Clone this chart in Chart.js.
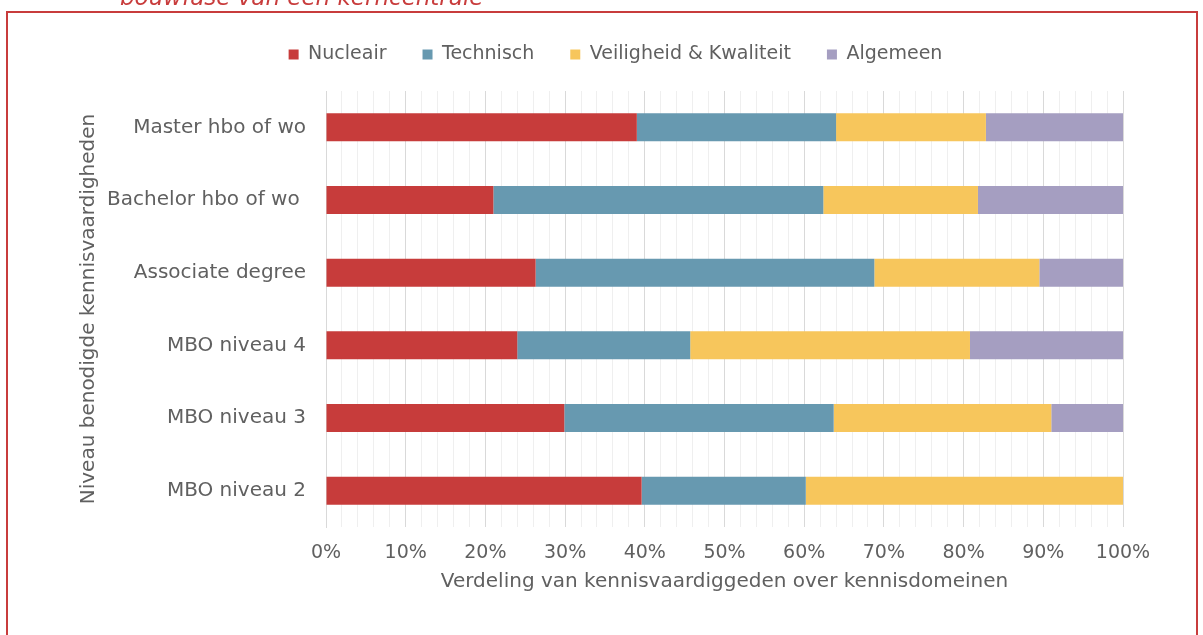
<!DOCTYPE html>
<html>
<head>
<meta charset="utf-8">
<script src="https://cdn.jsdelivr.net/npm/chart.js@4.4.1/dist/chart.umd.min.js"></script>
<style>
  html, body { margin: 0; padding: 0; background: #fff; }
  #wrap { width: 1203px; height: 635px; }
</style>
</head>
<body>
<div id="wrap"><canvas id="chart" width="1203" height="635"></canvas></div>
<script>
// niveaus (van boven naar beneden)
const levels = ["Master hbo of wo", "Bachelor hbo of wo ", "Associate degree", "MBO niveau 4", "MBO niveau 3", "MBO niveau 2"];

// aandeel per kennisdomein (%)
const nucleair   = [39.0, 21.0, 26.3, 24.0, 29.9, 39.6];
const technisch  = [25.0, 41.4, 42.5, 21.7, 33.8, 20.6];
const veiligheid = [18.8, 19.4, 20.7, 35.1, 27.3, 39.8];
const algemeen   = [17.2, 18.2, 10.5, 19.2,  9.0,  0.0];

const xTicks = [0, 10, 20, 30, 40, 50, 60, 70, 80, 90, 100];

const FONT = "'DejaVu Sans', sans-serif";
const GREY = "#606060";

// rode kader + afgesneden titel erboven
const framePlugin = {
    id: "frame",
    beforeLayout(chart) {
        // extra ruimte tussen legenda en grafiek, legenda iets naar rechts
        const lg = chart.legend;
        if (lg && !lg._extra) {
            const fit = lg.fit.bind(lg);
            lg.fit = function () { fit(); this.height += 17; };
            const draw = lg.draw.bind(lg);
            lg.draw = function () {
                this.ctx.save();
                this.ctx.translate(20, 0);
                draw();
                this.ctx.restore();
            };
            lg._extra = true;
        }
    },
    beforeDraw(chart) {
        const c = chart.ctx;
        c.save();
        c.fillStyle = "#fff";
        c.fillRect(0, 0, chart.width, chart.height);
        c.strokeStyle = "#c83c3c";
        c.lineWidth = 2;
        c.strokeRect(7, 12, 1190, 640);
        c.fillStyle = "#c83c3c";
        c.font = "italic 23px " + FONT;
        c.textBaseline = "alphabetic";
        c.fillText("bouwfase van een kerncentrale", 120, 5);
        c.restore();
    },
};

const ctx = document.getElementById("chart").getContext("2d");
new Chart(ctx, {
    type: "bar",
    data: {
        labels: levels,
        datasets: [
            { label: "Nucleair", data: nucleair, backgroundColor: "#c73c3b" },
            { label: "Technisch", data: technisch, backgroundColor: "#6799b0" },
            { label: "Veiligheid & Kwaliteit", data: veiligheid, backgroundColor: "#f7c65c" },
            { label: "Algemeen", data: algemeen, backgroundColor: "#a59ec1" },
        ],
    },
    options: {
        indexAxis: "y",
        responsive: false,
        animation: false,
        layout: { padding: { left: 68, right: 80, top: 9, bottom: 33 } },
        datasets: { bar: { barPercentage: 0.385, categoryPercentage: 1.0, borderWidth: 0 } },
        scales: {
            x: {
                stacked: true,
                min: 0,
                max: 100,
                afterBuildTicks(scale) {
                    const t = [];
                    for (let v = 0; v <= 100; v += 2) t.push({ value: v });
                    scale.ticks = t;
                },
                afterFit(scale) { scale.height = 75; },
                ticks: {
                    autoSkip: false,
                    maxRotation: 0,
                    padding: 15,
                    color: GREY,
                    font: { family: FONT, size: 19 },
                    callback: (v) => (xTicks.includes(v) ? v + "%" : ""),
                },
                grid: {
                    drawTicks: false,
                    color: (c) => (c.tick && c.tick.value % 10 === 0 ? "#d9d9d9" : "#efefef"),
                },
                border: { display: false },
                title: {
                    display: true,
                    text: "Verdeling van kennisvaardiggeden over kennisdomeinen",
                    color: GREY,
                    font: { family: FONT, size: 20 },
                    padding: { top: 0, bottom: 8 },
                },
            },
            y: {
                stacked: true,
                afterFit(scale) { scale.width = 326 - 68; },
                ticks: {
                    padding: 20,
                    color: GREY,
                    font: { family: FONT, size: 20 },
                },
                grid: { display: false, drawTicks: false },
                border: { display: true, color: "#d9d9d9" },
                title: {
                    display: true,
                    text: "Niveau benodigde kennisvaardigheden",
                    color: GREY,
                    font: { family: FONT, size: 20 },
                    padding: { top: 9, bottom: 0 },
                },
            },
        },
        plugins: {
            legend: {
                position: "top",
                labels: {
                    boxWidth: 10,
                    boxHeight: 10,
                    padding: 36,
                    color: GREY,
                    font: { family: FONT, size: 19 },
                },
            },
            tooltip: { enabled: false },
        },
    },
    plugins: [framePlugin],
});
</script>
</body>
</html>
